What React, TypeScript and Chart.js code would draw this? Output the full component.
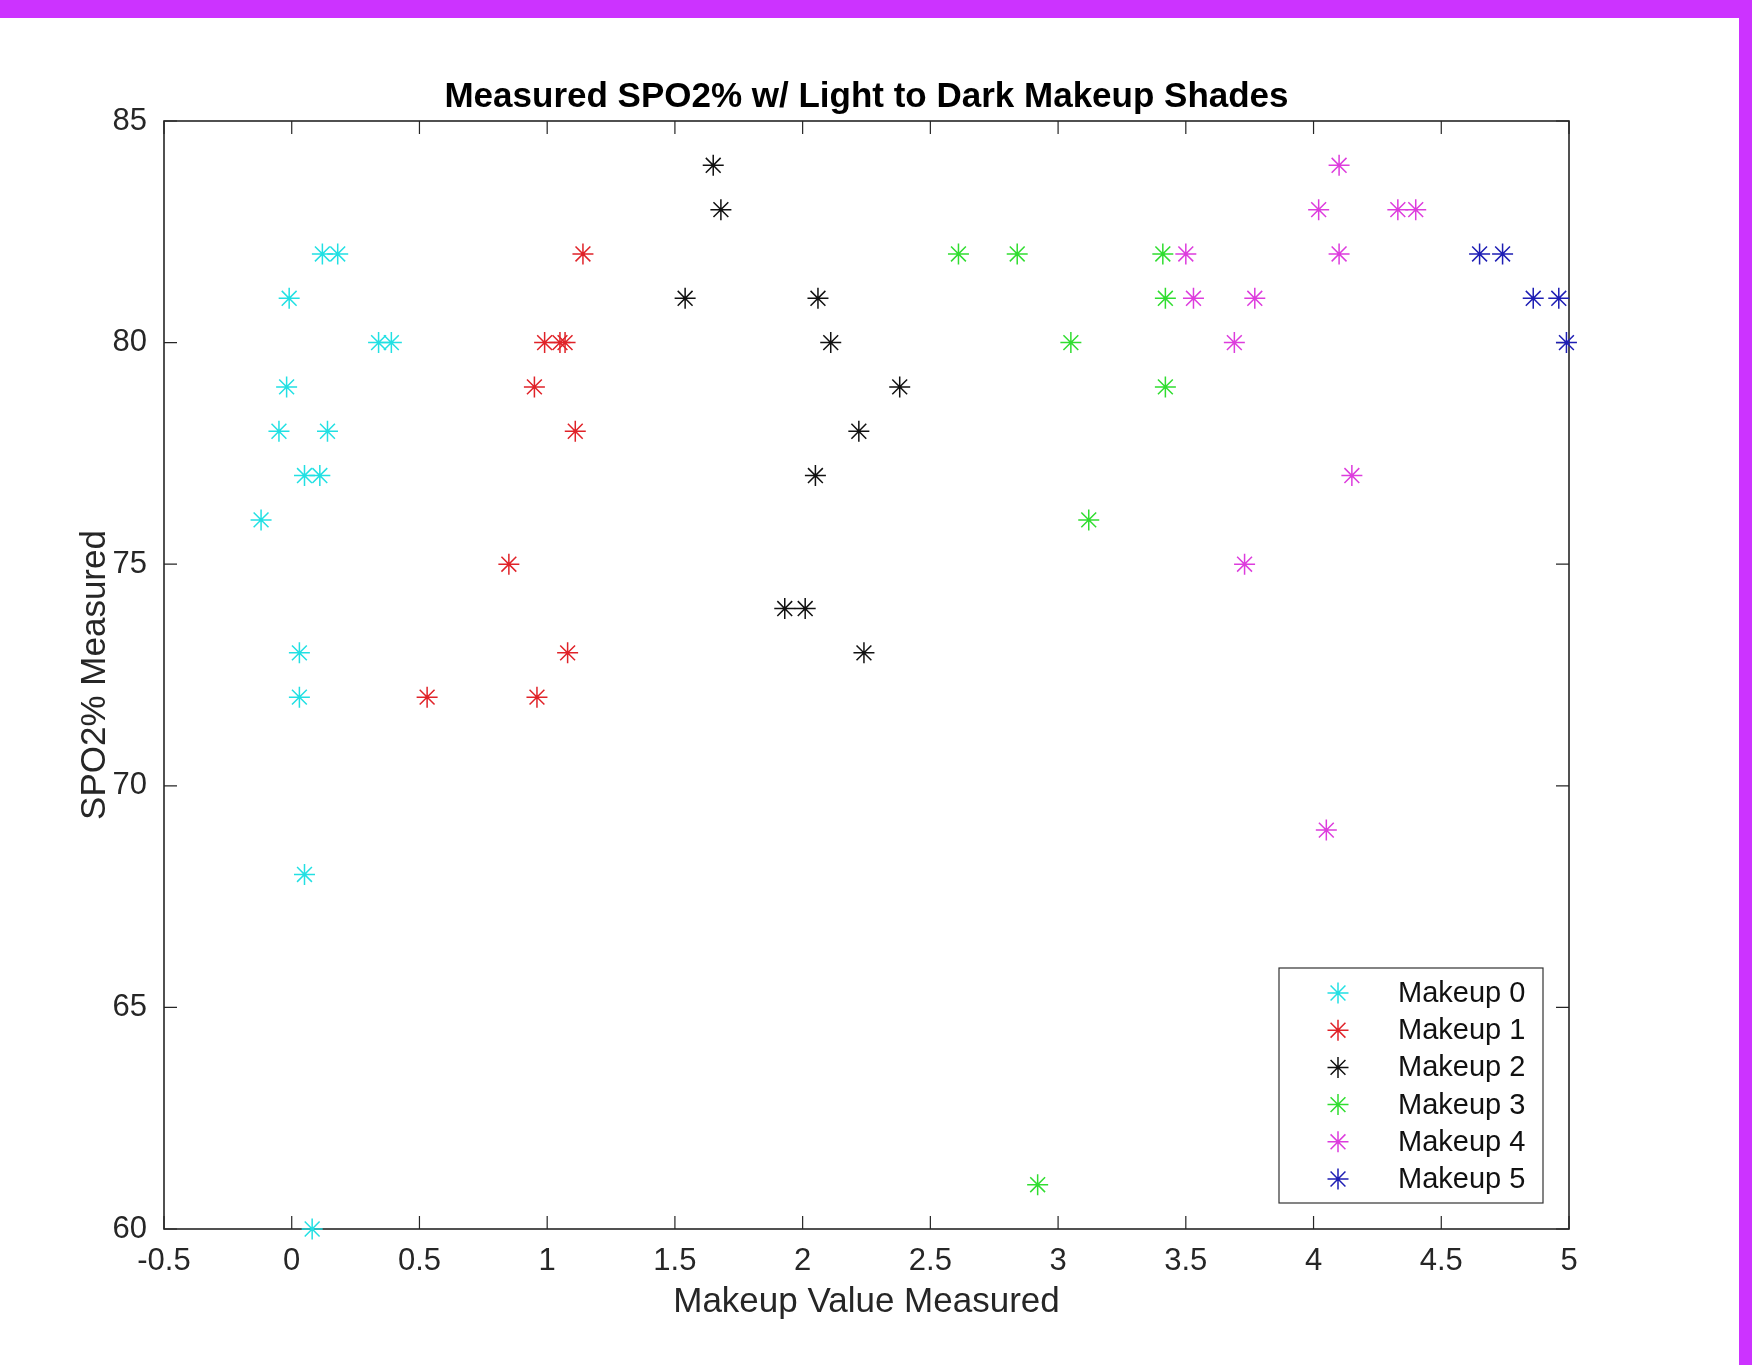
import React, { useEffect, useRef } from 'react';
import { Chart, registerables } from 'chart.js';

Chart.register(...registerables);

const chartTitle = 'Measured SPO2% w/ Light to Dark Makeup Shades';
const xAxisTitle = 'Makeup Value Measured';
const yAxisTitle = 'SPO2% Measured';

const seriesLabels = ['Makeup 0', 'Makeup 1', 'Makeup 2', 'Makeup 3', 'Makeup 4', 'Makeup 5'];
const seriesColors = ['#22e0e3', '#e02228', '#111111', '#30dd30', '#dd3cdd', '#1e1eb4'];

const makeup0X = [0.12, 0.18, -0.01, 0.34, 0.39, -0.02, -0.05, 0.14, 0.05, 0.11, -0.12, 0.03, 0.03, 0.05, 0.08];
const makeup0Y = [82, 82, 81, 80, 80, 79, 78, 78, 77, 77, 76, 73, 72, 68, 60];

const makeup1X = [1.14, 0.99, 1.05, 1.07, 0.95, 1.11, 0.85, 1.08, 0.53, 0.96];
const makeup1Y = [82, 80, 80, 80, 79, 78, 75, 73, 72, 72];

const makeup2X = [1.65, 1.68, 1.54, 2.06, 2.11, 2.38, 2.22, 2.05, 1.93, 2.01, 2.24];
const makeup2Y = [84, 83, 81, 81, 80, 79, 78, 77, 74, 74, 73];

const makeup3X = [2.61, 2.84, 3.41, 3.42, 3.05, 3.42, 3.12, 2.92];
const makeup3Y = [82, 82, 82, 81, 80, 79, 76, 61];

const makeup4X = [4.1, 4.02, 4.33, 4.4, 3.5, 4.1, 3.53, 3.77, 3.69, 4.15, 3.73, 4.05];
const makeup4Y = [84, 83, 83, 83, 82, 82, 81, 81, 80, 77, 75, 69];

const makeup5X = [4.65, 4.74, 4.86, 4.96, 4.99];
const makeup5Y = [82, 82, 81, 81, 80];

const seriesX = [makeup0X, makeup1X, makeup2X, makeup3X, makeup4X, makeup5X];
const seriesY = [makeup0Y, makeup1Y, makeup2Y, makeup3Y, makeup4Y, makeup5Y];

const xMin = -0.5;
const xMax = 5;
const xStep = 0.5;
const yMin = 60;
const yMax = 85;
const yStep = 5;

const FONT = '"Liberation Sans", Arial, Helvetica, sans-serif';
const CANVAS_W = 1739;
const CANVAS_H = 1347;
const STAR_R = 10.5;

function drawStar(ctx: CanvasRenderingContext2D, x: number, y: number, r: number) {
  for (let k = 0; k < 4; k++) {
    const ang = (k * Math.PI) / 4;
    const dx = Math.cos(ang) * r;
    const dy = Math.sin(ang) * r;
    ctx.moveTo(x - dx, y - dy);
    ctx.lineTo(x + dx, y + dy);
  }
}

const boxTicksPlugin = {
  id: 'boxTicks',
  beforeDatasetsDraw(chart: any) {
    const { ctx, chartArea: a, scales } = chart;
    const xs = scales.x;
    const ys = scales.y;
    const tl = 13;
    ctx.save();
    ctx.strokeStyle = '#262626';
    ctx.lineWidth = 1.2;
    ctx.beginPath();
    xs.ticks.forEach((t: any) => {
      const px = xs.getPixelForValue(t.value);
      ctx.moveTo(px, a.bottom);
      ctx.lineTo(px, a.bottom - tl);
      ctx.moveTo(px, a.top);
      ctx.lineTo(px, a.top + tl);
    });
    ys.ticks.forEach((t: any) => {
      const py = ys.getPixelForValue(t.value);
      ctx.moveTo(a.left, py);
      ctx.lineTo(a.left + tl, py);
      ctx.moveTo(a.right, py);
      ctx.lineTo(a.right - tl, py);
    });
    ctx.stroke();
    ctx.lineWidth = 1.6;
    ctx.strokeRect(a.left, a.top, a.right - a.left, a.bottom - a.top);
    ctx.restore();
  },
};

const insideLegendPlugin = {
  id: 'insideLegend',
  afterDraw(chart: any) {
    const { ctx, chartArea: a } = chart;
    const datasets = chart.data.datasets;
    const w = 264;
    const h = 235;
    const right = a.right - 26;
    const bottom = a.bottom - 26;
    const left = right - w;
    const top = bottom - h;
    ctx.save();
    ctx.fillStyle = '#ffffff';
    ctx.fillRect(left, top, w, h);
    ctx.strokeStyle = '#333333';
    ctx.lineWidth = 1.2;
    ctx.strokeRect(left, top, w, h);
    ctx.font = `29px ${FONT}`;
    ctx.textBaseline = 'middle';
    ctx.textAlign = 'left';
    datasets.forEach((ds: any, i: number) => {
      const cy = top + 25 + i * 37.2;
      ctx.beginPath();
      ctx.strokeStyle = ds.borderColor;
      ctx.lineWidth = 1.5;
      drawStar(ctx, left + 59, cy, STAR_R);
      ctx.stroke();
      ctx.fillStyle = '#111111';
      ctx.fillText(ds.label, left + 119, cy + 1);
    });
    ctx.restore();
  },
};

const formatTick = (v: any) => `${Number(v)}`;

export default function App() {
  const canvasRef = useRef<HTMLCanvasElement | null>(null);

  useEffect(() => {
    const canvas = canvasRef.current;
    if (!canvas) return;
    const datasets = seriesLabels.map((label, i) => ({
      label,
      data: seriesX[i].map((x, j) => ({ x, y: seriesY[i][j] })),
      borderColor: seriesColors[i],
      backgroundColor: seriesColors[i],
      pointStyle: 'star',
      pointRadius: STAR_R,
      pointBorderWidth: 1.5,
      showLine: false,
      clip: false,
    }));

    const chart = new Chart(canvas, {
      type: 'scatter',
      data: { datasets },
      options: {
        responsive: false,
        animation: false,
        events: [],
        layout: { padding: { left: 0, right: 170, top: 0, bottom: 0 } },
        plugins: {
          legend: { display: false },
          tooltip: { enabled: false },
          title: {
            display: true,
            fullSize: false,
            text: chartTitle,
            color: '#000000',
            font: { family: FONT, size: 35, weight: 'bold' },
            padding: { top: 58, bottom: 3 },
          },
        },
        scales: {
          x: {
            type: 'linear',
            min: xMin,
            max: xMax,
            afterFit: (scale: any) => {
              scale.height = 136;
            },
            ticks: {
              stepSize: xStep,
              color: '#262626',
              font: { family: FONT, size: 31 },
              padding: 14,
              maxRotation: 0,
              autoSkip: false,
              callback: formatTick,
            },
            grid: { display: false, drawTicks: false },
            border: { display: false },
            title: {
              display: true,
              text: xAxisTitle,
              color: '#262626',
              font: { family: FONT, size: 35 },
              padding: { top: 0, bottom: 42 },
            },
          },
          y: {
            type: 'linear',
            min: yMin,
            max: yMax,
            afterFit: (scale: any) => {
              scale.width = 164;
            },
            ticks: {
              stepSize: yStep,
              color: '#262626',
              font: { family: FONT, size: 31 },
              padding: 17,
              autoSkip: false,
              callback: formatTick,
            },
            grid: { display: false, drawTicks: false },
            border: { display: false },
            title: {
              display: true,
              text: yAxisTitle,
              color: '#262626',
              font: { family: FONT, size: 35 },
              padding: { top: 74, bottom: 0 },
            },
          },
        },
      } as any,
      plugins: [boxTicksPlugin, insideLegendPlugin],
    });

    return () => {
      chart.destroy();
    };
  }, []);

  return (
    <div
      style={{
        position: 'fixed',
        left: 0,
        top: 0,
        width: 1752,
        height: 1365,
        background: '#cc33ff',
        overflow: 'hidden',
      }}
    >
      <div
        style={{
          position: 'absolute',
          left: 0,
          top: 18,
          width: CANVAS_W,
          height: CANVAS_H,
          background: '#ffffff',
        }}
      >
        <canvas
          ref={canvasRef}
          width={CANVAS_W}
          height={CANVAS_H}
          style={{ display: 'block', width: CANVAS_W, height: CANVAS_H }}
        />
      </div>
    </div>
  );
}
